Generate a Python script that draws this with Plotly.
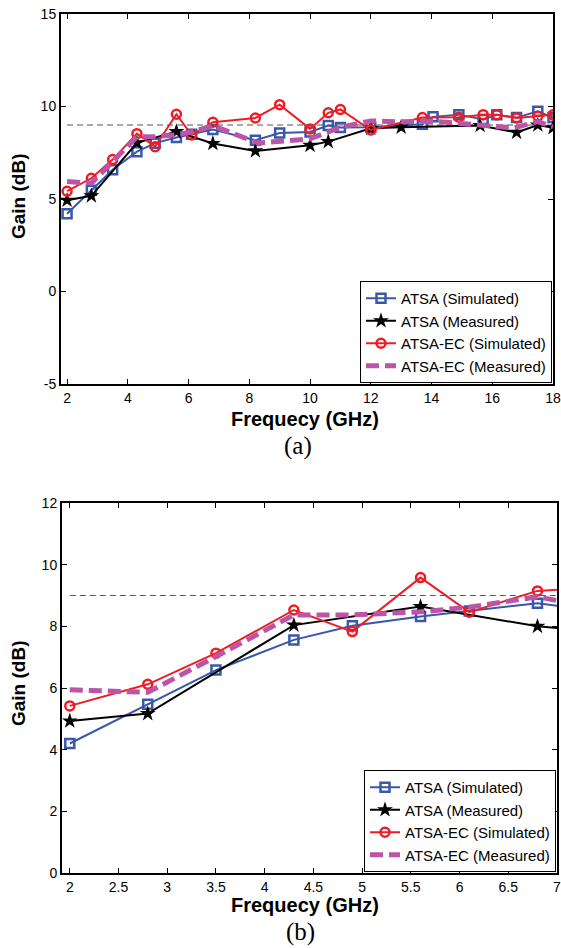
import plotly.graph_objects as go

# ---------------- data ----------------
atsa_sim_f = [2, 2.8, 3.5, 4.3, 4.9, 5.6, 6.1, 6.8, 8.2, 9.0, 10.0, 10.6, 11.0, 12.0, 13.7, 14.05, 14.9, 15.7, 16.15, 16.8, 17.5, 18]
atsa_sim_g = [4.2, 5.47, 6.58, 7.56, 8.02, 8.32, 8.5, 8.75, 8.18, 8.57, 8.62, 8.97, 8.86, 8.88, 9.04, 9.44, 9.56, 9.3, 9.55, 9.4, 9.74, 9.4]

atsa_meas_f = [2, 2.8, 4.3, 5.6, 6.8, 8.2, 10.0, 10.6, 12.0, 13.0, 15.6, 16.8, 17.5, 18]
atsa_meas_g = [4.93, 5.17, 8.04, 8.64, 8.0, 7.6, 7.9, 8.1, 8.82, 8.88, 8.97, 8.6, 9.0, 8.85]

ec_sim_f = [2, 2.8, 3.5, 4.3, 4.9, 5.6, 6.1, 6.8, 8.2, 9.0, 10.0, 10.6, 11.0, 12.0, 13.7, 14.9, 15.7, 16.15, 16.8, 17.5, 18]
ec_sim_g = [5.42, 6.12, 7.13, 8.53, 7.83, 9.58, 8.46, 9.15, 9.38, 10.1, 8.79, 9.66, 9.84, 8.73, 9.4, 9.42, 9.56, 9.55, 9.38, 9.47, 9.55]

ec_meas_f = [2, 2.8, 3.5, 4.3, 4.9, 5.6, 6.1, 6.8, 8.3, 10.0, 11.0, 12.0, 13.0, 14.0, 14.8, 15.6, 16.7, 17.5, 18]
ec_meas_g = [5.94, 5.86, 7.02, 8.37, 8.37, 8.47, 8.62, 8.96, 8.02, 8.25, 8.88, 9.22, 9.17, 9.2, 9.11, 9.0, 8.84, 9.18, 8.9]

ref_gain = 9
series_names = ["ATSA (Simulated)", "ATSA (Measured)", "ATSA-EC (Simulated)", "ATSA-EC (Measured)"]

top_xticks = [2, 4, 6, 8, 10, 12, 14, 16, 18]
top_yticks = [-5, 0, 5, 10, 15]
top_ylabels = ["-5", "0", "5", "10", "15"]
bot_xticks = [2, 2.5, 3, 3.5, 4, 4.5, 5, 5.5, 6, 6.5, 7]
bot_xlabels = ["2", "2.5", "3", "3.5", "4", "4.5", "5", "5.5", "6", "6.5", "7"]
bot_yticks = [0, 2, 4, 6, 8, 10, 12]

# ---------------- styles ----------------
BLUE = "#3A58A8"
RED = "#EE1D25"
MAG = "#BC55A8"
W, H = 561, 948
FONT = "Liberation Sans, Arial"

fig = go.Figure()

def add_set(xa, ya, leg, ref_x):
    fig.add_trace(go.Scatter(x=ref_x, y=[ref_gain, ref_gain], mode="lines",
                             line=dict(color="#555555", width=1, dash="6px,4px"),
                             showlegend=False, xaxis=xa, yaxis=ya, hoverinfo="skip"))
    fig.add_trace(go.Scatter(x=atsa_sim_f, y=atsa_sim_g, name=series_names[0], mode="lines+markers",
                             line=dict(color=BLUE, width=2),
                             marker=dict(symbol="square-open", size=9, color=BLUE, line=dict(width=2.5)),
                             xaxis=xa, yaxis=ya, legend=leg))
    fig.add_trace(go.Scatter(x=atsa_meas_f, y=atsa_meas_g, name=series_names[1], mode="lines+markers",
                             line=dict(color="black", width=2),
                             marker=dict(symbol="star", size=12, color="black"),
                             xaxis=xa, yaxis=ya, legend=leg))
    fig.add_trace(go.Scatter(x=ec_sim_f, y=ec_sim_g, name=series_names[2], mode="lines+markers",
                             line=dict(color=RED, width=2),
                             marker=dict(symbol="circle-open", size=9, color=RED, line=dict(width=2.5)),
                             xaxis=xa, yaxis=ya, legend=leg))
    fig.add_trace(go.Scatter(x=ec_meas_f, y=ec_meas_g, name=series_names[3], mode="lines",
                             line=dict(color=MAG, width=5, dash="13px,6px"),
                             xaxis=xa, yaxis=ya, legend=leg))

fmin = min(atsa_sim_f)
add_set("x", "y", "legend", [fmin, max(atsa_sim_f)])
add_set("x2", "y2", "legend2", [fmin, 7])

axis_common = dict(showline=True, linecolor="black", linewidth=2, mirror="ticks",
                   ticks="inside", ticklen=5, tickwidth=1, tickcolor="black",
                   showgrid=False, zeroline=False, automargin=False,
                   ticklabeloverflow="allow",
                   tickfont=dict(family=FONT, size=14, color="black"))

top_y0, top_y1 = 1 - 384 / H, 1 - 14 / H
bot_y0, bot_y1 = 1 - 873 / H, 1 - 503 / H

legend_common = dict(xanchor="right", yanchor="bottom", bordercolor="black", borderwidth=1,
                     bgcolor="white", font=dict(family=FONT, size=15, color="black"),
                     tracegroupgap=0)

fig.update_layout(
    width=W, height=H, margin=dict(l=0, r=0, t=0, b=0),
    paper_bgcolor="white", plot_bgcolor="white",
    xaxis=dict(domain=[61 / W, 553 / W], range=[1.8, 18.0001], tickvals=top_xticks, anchor="y", **axis_common),
    yaxis=dict(domain=[top_y0, top_y1], range=[-5, 15], tickvals=top_yticks, ticktext=top_ylabels,
               anchor="x", **axis_common),
    xaxis2=dict(domain=[62 / W, 557 / W], range=[1.92, 7.0005], tickvals=bot_xticks, ticktext=bot_xlabels,
                anchor="y2", **axis_common),
    yaxis2=dict(domain=[bot_y0, bot_y1], range=[0, 12], tickvals=bot_yticks, anchor="x2", **axis_common),
    legend=dict(x=552 / W, y=top_y0 + 1 / H, **legend_common),
    legend2=dict(x=556 / W, y=bot_y0 + 1 / H, **legend_common),
)

title_font = dict(family=FONT, size=20, color="black")
ann = []
for (cx, cy, txt, font, ang) in [
    (305, 419, "<b>Frequecy (GHz)</b>", title_font, 0),
    (305, 905, "<b>Frequecy (GHz)</b>", title_font, 0),
    (18, 196, "<b>Gain (dB)</b>", dict(family=FONT, size=19, color="black"), -90),
    (18, 683, "<b>Gain (dB)</b>", dict(family=FONT, size=19, color="black"), -90),
    (298, 446, "(a)", dict(family="Liberation Serif, Times New Roman", size=25, color="black"), 0),
    (300, 932, "(b)", dict(family="Liberation Serif, Times New Roman", size=25, color="black"), 0),
]:
    ann.append(dict(x=cx / W, y=1 - cy / H, xref="paper", yref="paper", text=txt, showarrow=False,
                    font=font, textangle=ang, xanchor="center", yanchor="middle"))
fig.update_layout(annotations=ann)

fig.write_html("out.html")
